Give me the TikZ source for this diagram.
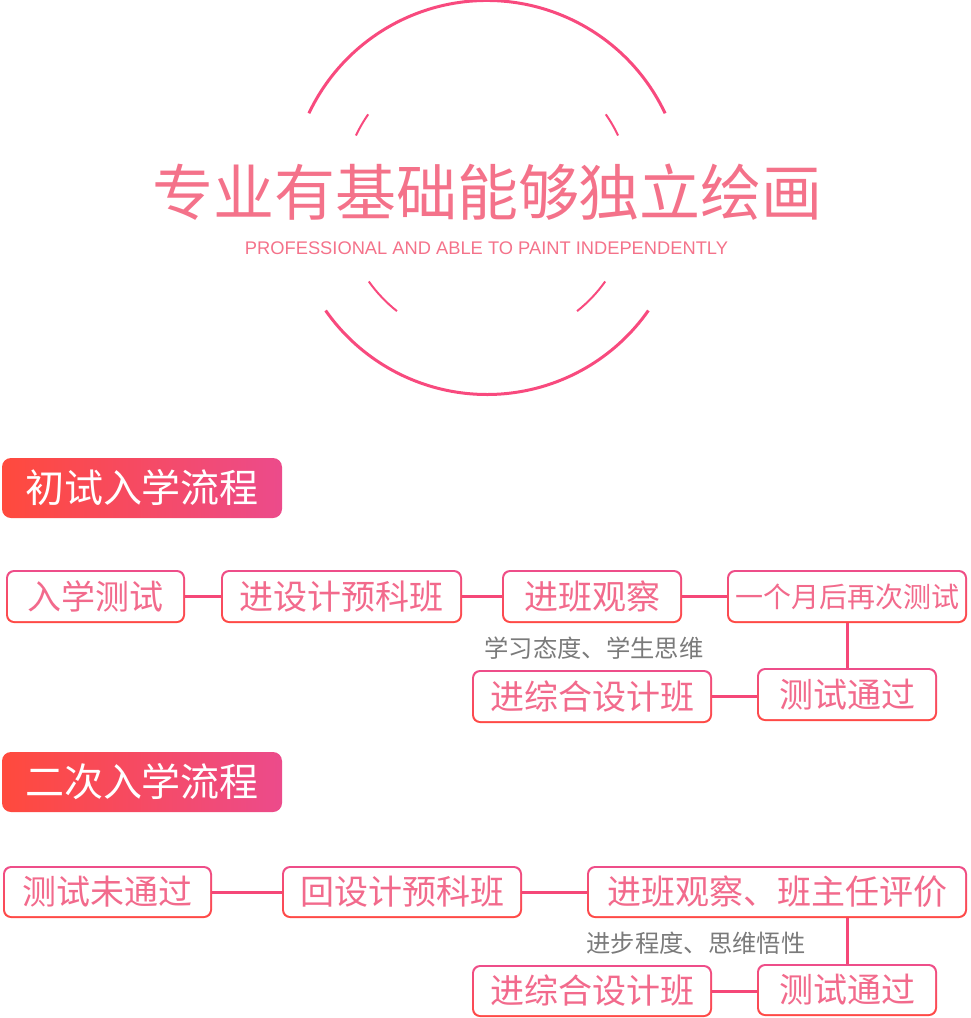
\documentclass[tikz,border=0pt]{standalone}
\usepackage{fontspec}
\setmainfont{Liberation Sans}
\newfontfamily\cjk{Noto Sans CJK SC}
\definecolor{arcpink}{HTML}{F84A7E}
\definecolor{titlepink}{HTML}{F4728A}
\definecolor{txtpink}{HTML}{F26A8C}
\definecolor{lnpink}{HTML}{F54778}
\definecolor{bTop}{HTML}{EE4E8A}
\definecolor{bBot}{HTML}{FF4A44}
\definecolor{hLeft}{HTML}{FF4A3D}
\definecolor{hRight}{HTML}{EC4B8B}
\definecolor{graytxt}{HTML}{7A7A7A}
\tikzset{
  fshade/.style={top color=bTop, bottom color=bBot, rounded corners=8pt, inner sep=0pt, draw=none},
  fin/.style={fill=white, rounded corners=6.5pt, inner sep=0pt, text=txtpink},
  hdr/.style={left color=hLeft, right color=hRight, rounded corners=9pt, inner sep=0pt, draw=none, text=white,
     minimum width=280pt, minimum height=60pt, font=\cjk\fontsize{39}{39}\selectfont},
  conn/.style={draw=lnpink, line width=3pt},
  note/.style={text=graytxt, font=\cjk\fontsize{24.3}{24.3}\selectfont, inner sep=0pt},
  arcline/.style={draw=arcpink, line width=3pt},
  arcthin/.style={draw=arcpink, line width=2pt},
}
% \fbx{name}{cx}{cy}{w}{h}{fontsize}{text}
\newcommand{\fbx}[7]{%
  \node[fshade, minimum width=#4pt, minimum height=#5pt] (#1) at (#2,-#3) {};
  \node[fin, minimum width=#4pt-4pt, minimum height=#5pt-4pt, font=\cjk\fontsize{#6}{#6}\selectfont] (#1-t) at (#1) {#7};
}
\begin{document}
\begin{tikzpicture}[x=1pt,y=1pt]
\useasboundingbox (0,0) rectangle (971,-1018);
% circle decoration
\coordinate (c) at (487,-197.5);
\draw[arcline] (c) ++(25.3:197) arc[start angle=25.3, end angle=154.7, radius=197pt];
\draw[arcline] (c) ++(215:197) arc[start angle=215, end angle=325, radius=197pt];
\draw[arcthin] (c) ++(145:145) arc[start angle=145, end angle=154.7, radius=145pt];
\draw[arcthin] (c) ++(35:145) arc[start angle=35, end angle=25.3, radius=145pt];
\draw[arcthin] (c) ++(215.4:145) arc[start angle=215.4, end angle=231.6, radius=145pt];
\draw[arcthin] (c) ++(324.6:145) arc[start angle=324.6, end angle=308.4, radius=145pt];
\node[text=titlepink, font=\cjk\fontsize{61}{61}\selectfont, inner sep=0pt] (title) at (487.5,-192) {专业有基础能够独立绘画};
\node[text=titlepink, font=\fontsize{18.3}{18.3}\selectfont, inner sep=0pt] (sub) at (486.5,-248) {PROFESSIONAL AND ABLE TO PAINT INDEPENDENTLY};
% section 1
\node[hdr] (h1) at (142,-488) {初试入学流程};
\fbx{a1}{95.5}{596.5}{179}{53}{34}{入学测试}
\fbx{a2}{341.5}{596.5}{241}{53}{34}{进设计预科班}
\fbx{a3}{592}{596.5}{180}{53}{34}{进班观察}
\fbx{a4}{847}{596.5}{240}{53}{28}{一个月后再次测试}
\fbx{a5}{847}{694.5}{180}{53}{34}{测试通过}
\fbx{a6}{592}{696.5}{240}{53}{34}{进综合设计班}
\draw[conn] (a1.east) -- (a2.west);
\draw[conn] (a2.east) -- (a3.west);
\draw[conn] (a3.east) -- (a4.west);
\draw[conn] (a4.south) -- (a5.north);
\draw[conn] (a6.east) -- (a6.east -| a5.west);
\node[note] (n1) at (594,-648) {学习态度、学生思维};
% section 2
\node[hdr] (h2) at (142,-782) {二次入学流程};
\fbx{b1}{107.5}{892}{209}{52}{34}{测试未通过}
\fbx{b2}{402}{892}{240}{52}{34}{回设计预科班}
\fbx{b3}{777}{892}{380}{52}{34}{进班观察、班主任评价}
\fbx{b4}{847}{990}{180}{52}{34}{测试通过}
\fbx{b5}{592}{991}{240}{52}{34}{进综合设计班}
\draw[conn] (b1.east) -- (b2.west);
\draw[conn] (b2.east) -- (b3.west);
\draw[conn] (b4.north) -- (b4.north |- b3.south);
\draw[conn] (b5.east) -- (b5.east -| b4.west);
\node[note] (n2) at (696,-943) {进步程度、思维悟性};
\end{tikzpicture}
\end{document}
